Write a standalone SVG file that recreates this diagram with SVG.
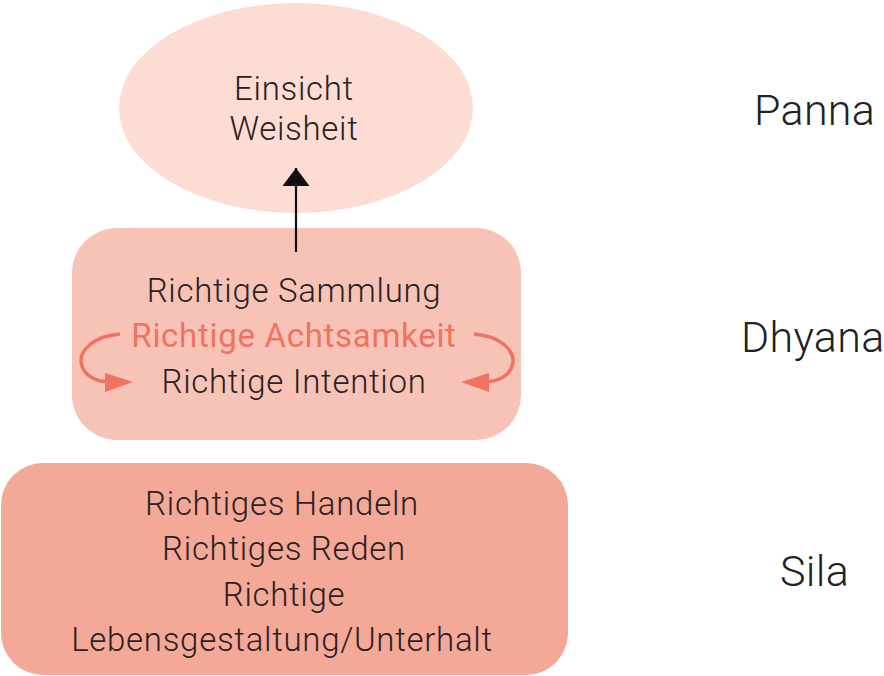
<svg xmlns="http://www.w3.org/2000/svg" width="884" height="676" viewBox="0 0 884 676">
<style>
  text { font-family: Roboto, "Liberation Sans", sans-serif; font-weight: 300; fill: #2a2222; text-anchor: middle; }
  .t { font-size: 33px; letter-spacing: 0.7px; }
  .acc { fill: #ef7262; font-weight: 400; }
  .lbl { font-size: 43px; text-anchor: start; fill: #222; letter-spacing: 0.3px; }
  .curve { fill: none; stroke: #ef7262; stroke-width: 3.5; }
</style>
<defs>
  <marker id="ah-black" viewBox="0 0 10 10" refX="10" refY="5" markerWidth="18" markerHeight="27" markerUnits="userSpaceOnUse" orient="auto" preserveAspectRatio="none">
    <path d="M0,0 L10,5 L0,10 Z" fill="#111"/>
  </marker>
</defs>
<rect width="884" height="676" fill="#ffffff"/>

<g id="node-panna">
  <ellipse cx="296" cy="108" rx="177" ry="105" fill="#fcdcd3"/>
  <text class="t" x="294" y="100">Einsicht</text>
  <text class="t" x="294" y="140">Weisheit</text>
</g>

<g id="node-dhyana">
  <rect x="72" y="228" width="449" height="212" rx="45" fill="#f8c3b7"/>
  <text class="t" x="294" y="302">Richtige Sammlung</text>
  <text class="t acc" x="294" y="347">Richtige Achtsamkeit</text>
  <text class="t" x="294" y="393">Richtige Intention</text>
</g>

<g id="node-sila">
  <rect x="1" y="463" width="567" height="212" rx="42" fill="#f4a898"/>
  <text class="t" x="282" y="515">Richtiges Handeln</text>
  <text class="t" x="284" y="560">Richtiges Reden</text>
  <text class="t" x="284" y="606">Richtige</text>
  <text class="t" x="282" y="651">Lebensgestaltung/Unterhalt</text>
</g>

<g id="labels">
  <text class="lbl" x="754" y="125">Panna</text>
  <text class="lbl" x="741" y="352">Dhyana</text>
  <text class="lbl" x="780" y="586">Sila</text>
</g>

<g id="connectors">
  <line x1="296" y1="252" x2="296" y2="168" stroke="#111" stroke-width="2.2" marker-end="url(#ah-black)"/>
  <path class="curve" d="M120,334 C94,336 80,350 81,362 C83,376 96,382 112,382" />
  <path d="M105,373 L133,382 L105,392 Z" fill="#ef7262"/>
  <path class="curve" d="M474,334 C500,336 514,350 513,362 C511,376 498,382 482,382" />
  <path d="M489,373 L461,382 L489,392 Z" fill="#ef7262"/>
</g>
</svg>
